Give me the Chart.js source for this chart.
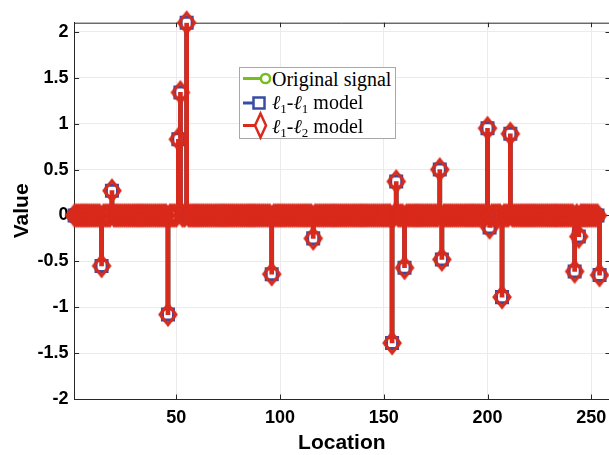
<!DOCTYPE html>
<html>
<head>
<meta charset="utf-8">
<script src="https://cdn.jsdelivr.net/npm/chart.js@4.4.0/dist/chart.umd.min.js"></script>
<style>
html,body{margin:0;padding:0;background:#fff;}
#wrap{position:relative;width:609px;height:455px;overflow:hidden;}
#chart{position:absolute;left:0;top:0;}
#legend{position:absolute;left:239px;top:67px;width:157px;height:72px;border:1px solid #a8a8a8;background:#fff;box-sizing:border-box;}
.lt{position:absolute;left:272px;height:22px;line-height:22px;font-family:"Liberation Serif","DejaVu Serif",serif;font-size:20px;color:#000;white-space:nowrap;}
.lt sub{font-size:13px;vertical-align:-4px;line-height:0;}
#lsvg{position:absolute;left:0;top:0;pointer-events:none;}
</style>
</head>
<body>
<div id="wrap">
<canvas id="chart" width="609" height="455"></canvas>
<div id="legend"></div>
<svg id="lsvg" width="609" height="455">
  <line x1="243" y1="78.5" x2="265.5" y2="78.5" stroke="#76bd1e" stroke-width="3"/>
  <circle cx="265.5" cy="78.5" r="4.6" fill="#fff" stroke="#76bd1e" stroke-width="2.5"/>
  <line x1="243" y1="103" x2="259" y2="103" stroke="#384ca4" stroke-width="3"/>
  <rect x="253.5" y="97.5" width="11" height="11" fill="#fff" stroke="#384ca4" stroke-width="2.5"/>
  <line x1="243" y1="125.5" x2="260.5" y2="125.5" stroke="#d92a1c" stroke-width="3"/>
  <polygon points="260.5,113.5 266,125.5 260.5,137.5 255,125.5" fill="#fff" stroke="#d92a1c" stroke-width="2.5"/>
</svg>
<div class="lt" style="top:67.5px">Original signal</div>
<div class="lt" style="top:91px"><i>ℓ</i><sub>1</sub>-<i>ℓ</i><sub>1</sub> model</div>
<div class="lt" style="top:114.5px"><i>ℓ</i><sub>1</sub>-<i>ℓ</i><sub>2</sub> model</div>
</div>
<script>
// ---- data ----
const locationCount = 254;
const spikeLocations = [14, 19, 46, 51, 52, 55, 96, 116, 154, 156, 160, 177, 178, 200, 201, 207, 211, 242, 244, 254];
const originalValues = [-0.55, 0.27, -1.08, 0.83, 1.34, 2.1, -0.64, -0.25, -1.39, 0.37, -0.57, 0.5, -0.48, 0.95, -0.13, -0.89, 0.89, -0.61, -0.23, -0.65];
const l1l1Values     = [-0.55, 0.27, -1.08, 0.83, 1.34, 2.1, -0.64, -0.25, -1.39, 0.37, -0.57, 0.5, -0.48, 0.95, -0.13, -0.89, 0.89, -0.61, -0.23, -0.65];
const l1l2Values     = [-0.55, 0.27, -1.08, 0.83, 1.34, 2.1, -0.64, -0.25, -1.39, 0.37, -0.57, 0.5, -0.48, 0.95, -0.13, -0.89, 0.89, -0.61, -0.23, -0.65];
const xTickValues = [50, 100, 150, 200, 250];
const yTickValues = [-2, -1.5, -1, -0.5, 0, 0.5, 1, 1.5, 2];

const GREEN = '#76bd1e', BLUE = '#384ca4', RED = '#d92a1c';

function fullSeries(values) {
  const m = new Map(spikeLocations.map((l, i) => [l, values[i]]));
  const out = [];
  for (let i = 1; i <= locationCount; i++) out.push({x: i, y: m.has(i) ? m.get(i) : 0});
  return out;
}
function stems(values) {
  return spikeLocations.map((l, i) => ({x: l, y: values[i]}));
}
function diamond(hw, hh, lw, color) {
  const c = document.createElement('canvas');
  c.width = Math.ceil(2 * hw + 2 * lw + 2);
  c.height = Math.ceil(2 * hh + 2 * lw + 4);
  const g = c.getContext('2d');
  const cx = c.width / 2, cy = c.height / 2;
  g.beginPath();
  g.moveTo(cx, cy - hh); g.lineTo(cx + hw, cy); g.lineTo(cx, cy + hh); g.lineTo(cx - hw, cy); g.closePath();
  g.lineWidth = lw; g.strokeStyle = color; g.lineJoin = 'miter'; g.stroke();
  return c;
}
const diamondImg = diamond(8, 10, 3, RED);

const tickFont = {family: 'Liberation Sans', weight: 'bold', size: 18};

function noPad(s) { s.paddingLeft = 0; s.paddingRight = 0; s.paddingTop = 0; s.paddingBottom = 0; }

const boxPlugin = {
  id: 'box',
  beforeDatasetsDraw(chart) {
    const {ctx, chartArea: a, scales: {x, y}} = chart;
    ctx.save();
    ctx.strokeStyle = '#262626';
    ctx.lineWidth = 1;
    ctx.beginPath();
    ctx.moveTo(a.left, a.top + 0.5); ctx.lineTo(a.right, a.top + 0.5);
    const tl = 4.5;
    xTickValues.forEach(v => {
      const px = Math.round(x.getPixelForValue(v)) + 0.5;
      ctx.moveTo(px, a.bottom); ctx.lineTo(px, a.bottom - tl);
      ctx.moveTo(px, a.top); ctx.lineTo(px, a.top + tl);
    });
    yTickValues.forEach(v => {
      const py = Math.round(y.getPixelForValue(v)) + 0.5;
      ctx.moveTo(a.left, py); ctx.lineTo(a.left + tl, py);
      ctx.moveTo(a.right, py); ctx.lineTo(a.right - 3.5, py);
    });
    ctx.stroke();
    ctx.restore();
  }
};

new Chart(document.getElementById('chart'), {
  type: 'scatter',
  plugins: [boxPlugin],
  data: {
    datasets: [
      {type: 'scatter', label: 'ℓ1-ℓ2 model markers', data: fullSeries(l1l2Values), order: 0, clip: false,
       pointStyle: diamondImg, pointRadius: 10, pointHoverRadius: 10, showLine: false},
      {type: 'bar', label: 'ℓ1-ℓ2 model', data: stems(l1l2Values), order: 1, backgroundColor: RED,
       barThickness: 4, grouped: false, borderWidth: 0},
      {type: 'scatter', label: 'ℓ1-ℓ1 model markers', data: fullSeries(l1l1Values), order: 2, clip: false,
       pointStyle: 'rect', pointRadius: 7.8, pointHoverRadius: 7.8, pointBorderWidth: 3,
       pointBorderColor: BLUE, pointBackgroundColor: '#fff', showLine: false},
      {type: 'bar', label: 'ℓ1-ℓ1 model', data: stems(l1l1Values), order: 3, backgroundColor: BLUE,
       barThickness: 4, grouped: false, borderWidth: 0},
      {type: 'scatter', label: 'Original signal markers', data: fullSeries(originalValues), order: 4, clip: false,
       pointStyle: 'circle', pointRadius: 6.6, pointHoverRadius: 6.6, pointBorderWidth: 3,
       pointBorderColor: GREEN, pointBackgroundColor: '#fff', showLine: false},
      {type: 'bar', label: 'Original signal', data: stems(originalValues), order: 5, backgroundColor: GREEN,
       barThickness: 4, grouped: false, borderWidth: 0}
    ]
  },
  options: {
    responsive: false,
    animation: false,
    devicePixelRatio: 1,
    events: [],
    layout: {autoPadding: false, padding: {top: 22.7, left: 0, right: 0, bottom: 0}},
    plugins: {legend: {display: false}, tooltip: {enabled: false}},
    scales: {
      x: {
        type: 'linear', min: 1, max: 258.55, offset: false,
        afterBuildTicks: s => { s.ticks = xTickValues.map(v => ({value: v})); },
        afterFit: s => { s.height = 56; noPad(s); },
        ticks: {font: tickFont, color: '#000', padding: 8, maxRotation: 0, autoSkip: false, callback: v => String(v)},
        grid: {color: '#ebebeb', drawTicks: false, lineWidth: 1, offset: false},
        border: {display: true, color: '#262626', width: 1},
        title: {display: true, text: 'Location', color: '#000',
                font: {family: 'Liberation Sans', weight: 'bold', size: 21, lineHeight: 1.1}, padding: 0}
      },
      y: {
        type: 'linear', min: -2, max: 2.1,
        afterBuildTicks: s => { s.ticks = yTickValues.map(v => ({value: v})); },
        afterFit: s => { s.width = 74.6; noPad(s); },
        ticks: {font: tickFont, color: '#000', padding: 6, autoSkip: false, callback: v => String(v)},
        grid: {color: '#ebebeb', drawTicks: false, lineWidth: 1, offset: false},
        border: {display: true, color: '#262626', width: 1},
        title: {display: true, text: 'Value', color: '#000',
                font: {family: 'Liberation Sans', weight: 'bold', size: 21, lineHeight: 2.1}, padding: 0}
      }
    }
  }
});
</script>
</body>
</html>
